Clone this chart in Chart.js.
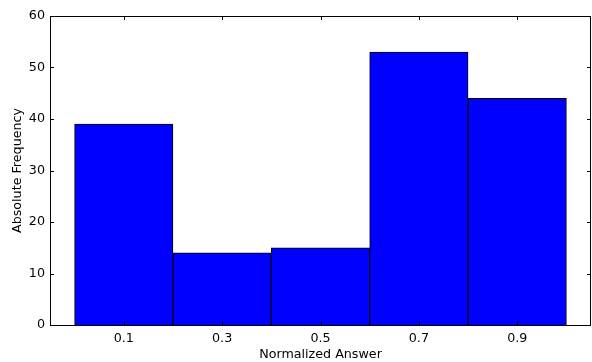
<!DOCTYPE html>
<html>
<head>
<meta charset="utf-8">
<script src="https://cdn.jsdelivr.net/npm/chart.js@4/dist/chart.umd.min.js"></script>
<style>
  html, body { margin: 0; padding: 0; background: #fff; }
  #wrap { width: 592px; height: 362px; }
</style>
</head>
<body>
<div id="wrap"><canvas id="histChart" width="592" height="362"></canvas></div>
<script>
// bin centers and counts
const binCenters = [0.1, 0.3, 0.5, 0.7, 0.9];
const counts = [39, 14, 15, 53, 44];
const xTicks = [0.1, 0.3, 0.5, 0.7, 0.9];
const yTicks = [0, 10, 20, 30, 40, 50, 60];

const FONT = "'DejaVu Sans', sans-serif";

// matplotlib style frame with inward ticks
const framePlugin = {
    id: "frame",
    afterDraw(chart) {
        const { ctx, chartArea: a, scales } = chart;
        ctx.save();
        ctx.strokeStyle = "#000";
        ctx.lineWidth = 1;
        ctx.beginPath();
        xTicks.forEach(v => {
            const px = Math.round(scales.x.getPixelForValue(v)) + 0.5;
            ctx.moveTo(px, a.bottom); ctx.lineTo(px, a.bottom - 4);
            ctx.moveTo(px, a.top); ctx.lineTo(px, a.top + 4);
        });
        yTicks.forEach(v => {
            const py = Math.round(scales.y.getPixelForValue(v)) + 0.5;
            ctx.moveTo(a.left, py); ctx.lineTo(a.left + 4, py);
            ctx.moveTo(a.right, py); ctx.lineTo(a.right - 4, py);
        });
        ctx.stroke();
        ctx.strokeRect(Math.round(a.left) + 0.5, Math.round(a.top) + 0.5,
            Math.round(a.right - a.left) - 1, Math.round(a.bottom - a.top));
        ctx.restore();
    }
};

const ctx = document.getElementById("histChart").getContext("2d");
const histChart = new Chart(ctx, {
    type: "bar",
    data: {
        datasets: [{
            data: binCenters.map((c, i) => ({ x: c, y: counts[i] })),
            backgroundColor: "#0000ff",
            borderColor: "#000000",
            borderWidth: 1,
            barPercentage: 1,
            categoryPercentage: 1
        }]
    },
    options: {
        responsive: false,
        animation: false,
        layout: { padding: { top: 16, right: 1, left: 0, bottom: 0 } },
        plugins: { legend: { display: false }, tooltip: { enabled: false } },
        scales: {
            x: {
                type: "linear",
                offset: false,
                min: -0.05,
                max: 1.05,
                afterBuildTicks: (s) => { s.ticks = xTicks.map(v => ({ value: v })); },
                afterFit: (s) => { s.height = 37; },
                grid: { display: false, drawTicks: false, offset: false },
                border: { display: false },
                ticks: {
                    padding: 6,
                    color: "#000",
                    font: { family: FONT, size: 12.7 },
                    callback: (v) => v.toFixed(1)
                },
                title: {
                    display: true,
                    text: "Normalized Answer",
                    color: "#000",
                    font: { family: FONT, size: 12.7 },
                    padding: { top: 1, bottom: 0 }
                }
            },
            y: {
                min: 0,
                max: 60,
                afterBuildTicks: (s) => { s.ticks = yTicks.map(v => ({ value: v })); },
                afterFit: (s) => { s.width = 50; },
                grid: { display: false, drawTicks: false },
                border: { display: false },
                ticks: {
                    padding: 5,
                    color: "#000",
                    font: { family: FONT, size: 12.7 }
                },
                title: {
                    display: true,
                    text: "Absolute Frequency",
                    color: "#000",
                    font: { family: FONT, size: 12.7 },
                    padding: { top: 10, bottom: 0 }
                }
            }
        }
    },
    plugins: [framePlugin]
});
</script>
</body>
</html>
